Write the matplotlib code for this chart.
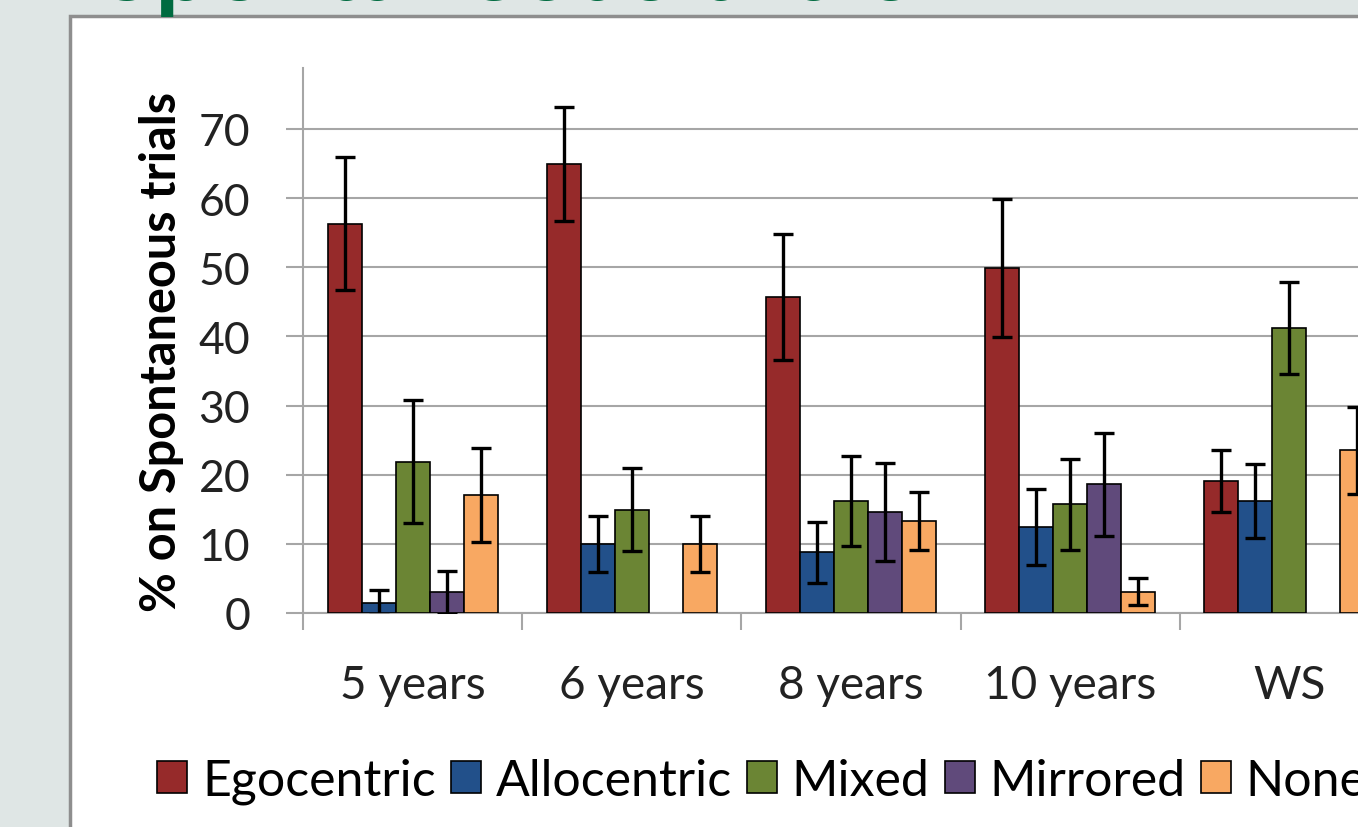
import numpy as np
import matplotlib
matplotlib.use('Agg')
import matplotlib.pyplot as plt
from matplotlib.patches import Rectangle, Patch

plt.rcParams['font.family'] = ['Lato', 'DejaVu Sans']

# data
groups = ['5 years', '6 years', '8 years', '10 years', 'WS']
series = ['Egocentric', 'Allocentric', 'Mixed', 'Mirrored', 'None']
colors = ['#962A2A', '#22508A', '#6B8534', '#604A7B', '#F8A862']

egocentric = [56.3, 64.9, 45.7, 49.9, 19.1]
allocentric = [1.5, 10.0, 8.8, 12.5, 16.2]
mixed = [21.9, 14.9, 16.2, 15.7, 41.2]
mirrored = [3.0, np.nan, 14.6, 18.6, np.nan]
none = [17.1, 10.0, 13.3, 3.1, 23.5]

egocentric_err = [9.6, 8.2, 9.1, 10.0, 4.5]
allocentric_err = [1.8, 4.0, 4.4, 5.5, 5.4]
mixed_err = [8.9, 6.0, 6.5, 6.6, 6.7]
mirrored_err = [3.1, np.nan, 7.1, 7.4, np.nan]
none_err = [6.8, 4.0, 4.2, 2.0, 6.3]

values = [egocentric, allocentric, mixed, mirrored, none]
errors = [egocentric_err, allocentric_err, mixed_err, mirrored_err, none_err]

W, H = 1358, 828
fig = plt.figure(figsize=(W / 100, H / 100), dpi=100)
fig.patch.set_facecolor('#DFE6E5')

# white slide panel with grey edge
fig.patches.append(Rectangle((70 / W, -0.1), 1.2, 1 - 17 / H + 0.1,
                             transform=fig.transFigure, facecolor='white',
                             edgecolor='#8E8E8E', linewidth=2.5, zorder=-5))

# title, mostly cut off at the top of the crop
fig.text(101 / W, 1 + 0.5 / H, 'Spontaneous trials', color='#006B40',
         fontsize=71, fontweight='bold', va='baseline', ha='left', zorder=-4)

ax = fig.add_axes([303 / W, 1 - 614 / H, 1096 / W, 545 / H])
ax.set_zorder(2)
ax.set_facecolor('none')

bw = 0.155
x = np.arange(len(groups))
for i, (vals, errs) in enumerate(zip(values, errors)):
    pos = x + (i - 2) * bw
    ax.bar(pos, vals, width=bw, color=colors[i], edgecolor='black',
           linewidth=1.2, zorder=3, label=series[i])
    ax.errorbar(pos, vals, yerr=errs, fmt='none', ecolor='black',
                elinewidth=2.4, capsize=7, capthick=2.4, zorder=4)

ax.set_xlim(-0.5, 4.5)
ax.set_ylim(0, 78.8)
ax.set_yticks(np.arange(0, 71, 10))
ax.yaxis.grid(True, color='#A6A6A6', linewidth=1.5, zorder=0)
ax.set_axisbelow(True)

ax.set_xticks(np.arange(-0.5, 4.6, 1))
ax.set_xticklabels([])
ax.set_xticks(x, minor=True)
ax.set_xticklabels(groups, minor=True)
ax.tick_params(axis='x', which='major', length=12, width=1.5, color='#A6A6A6')
ax.tick_params(axis='x', which='minor', length=0, pad=37, labelsize=33)
ax.tick_params(axis='y', length=12, width=1.5, color='#A6A6A6', pad=26,
               labelsize=32, labelcolor='#222222')
ax.tick_params(axis='x', which='both', labelcolor='#222222')

for s in ['top', 'right']:
    ax.spines[s].set_visible(False)
for s in ['left', 'bottom']:
    ax.spines[s].set_color('#A6A6A6')
    ax.spines[s].set_linewidth(1.5)

ax.set_ylabel('% on Spontaneous trials', fontsize=35, fontweight='bold')
ax.yaxis.set_label_coords(-0.109, 0.48)

handles = [Patch(facecolor=c, edgecolor='black', linewidth=1.2) for c in colors]
fig.legend(handles, series, loc='center left', ncol=5,
           bbox_to_anchor=(137 / W, 1 - 782 / H), frameon=False,
           fontsize=36, handlelength=0.6, handleheight=0.6,
           handletextpad=0.3, columnspacing=0.3, borderaxespad=0)

fig.savefig('out.png', dpi=100, facecolor=fig.get_facecolor())
